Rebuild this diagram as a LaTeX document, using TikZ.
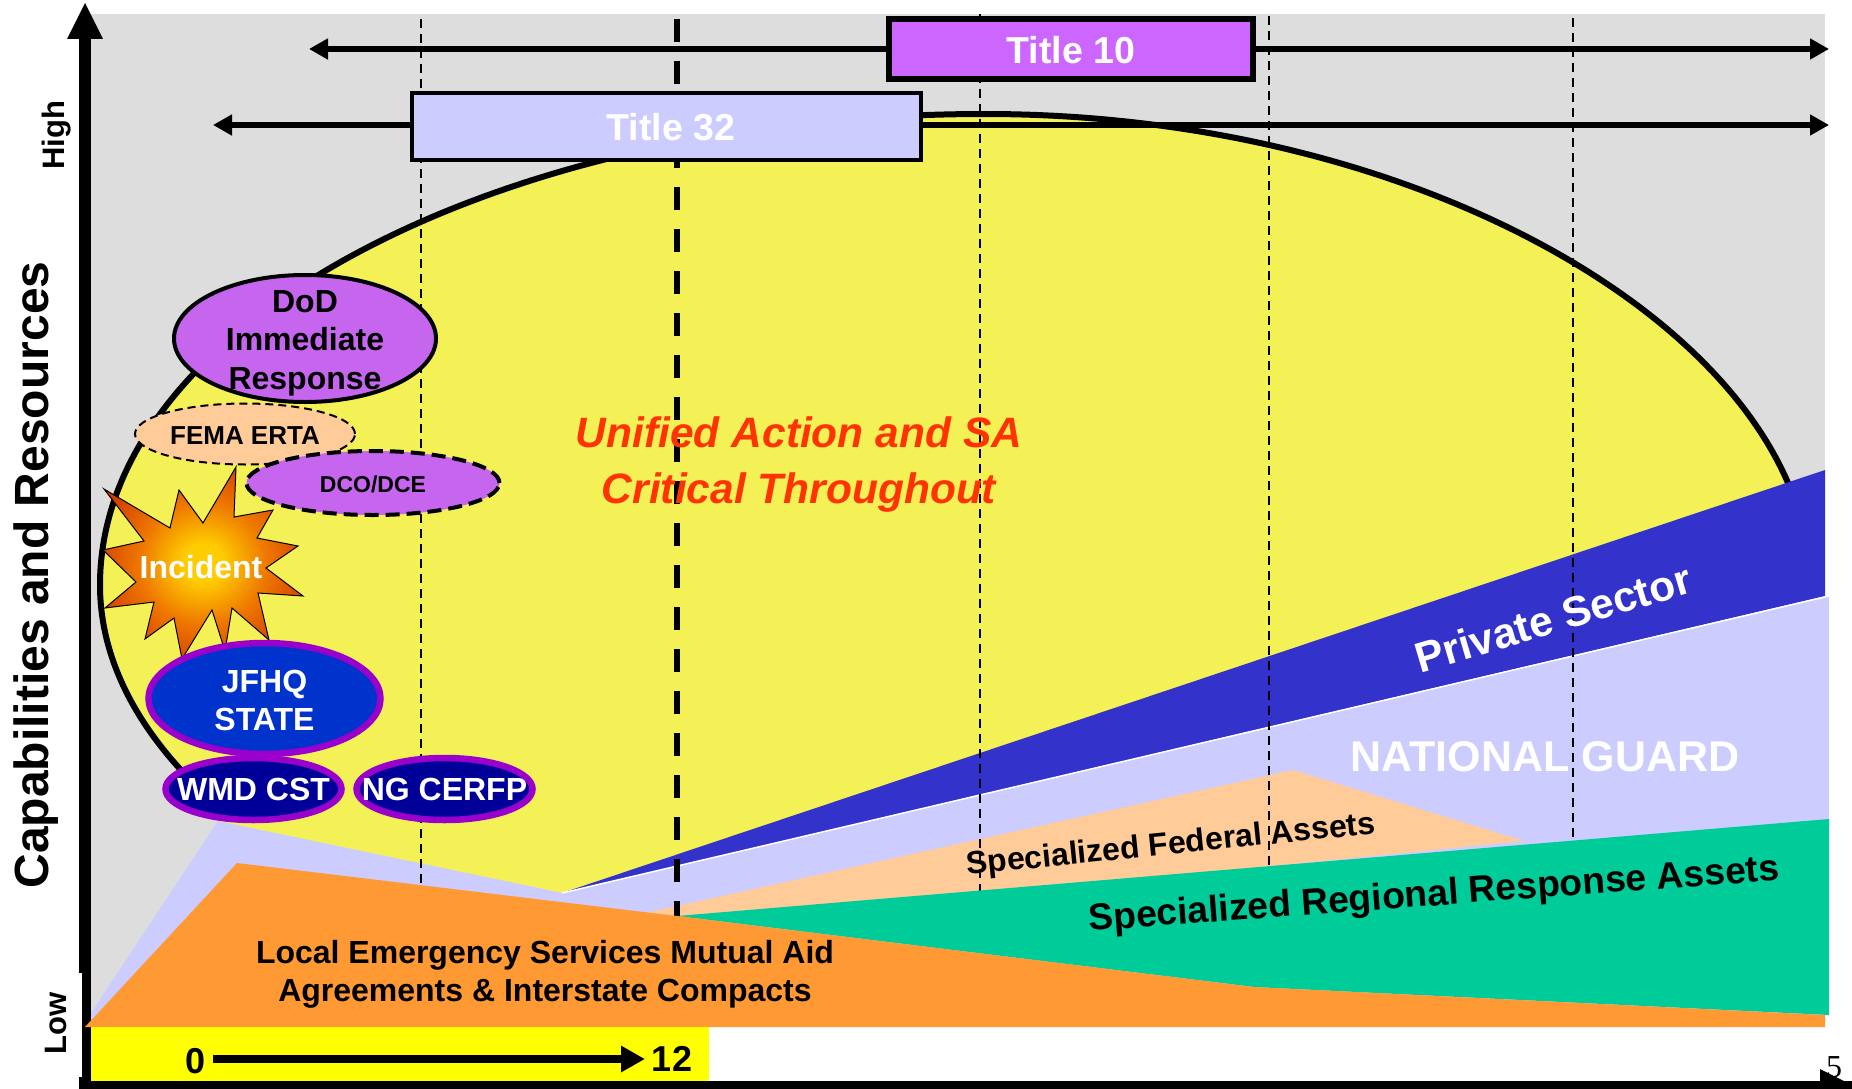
\documentclass[tikz,border=0pt]{standalone}
\usepackage{fontspec}
\setmainfont{Liberation Sans}
\newfontfamily\pagefont{Liberation Serif}
\usetikzlibrary{shapes.geometric,arrows.meta}
\definecolor{bggray}{HTML}{DDDDDD}
\definecolor{curvefill}{HTML}{F3F156}
\definecolor{lilac}{HTML}{CCCCFF}
\definecolor{dblue}{HTML}{3333CC}
\definecolor{peach}{HTML}{FFCC99}
\definecolor{sea}{HTML}{00CC99}
\definecolor{orng}{HTML}{FF9933}
\definecolor{ylw}{HTML}{FFFF00}
\definecolor{tpurple}{HTML}{CC66FF}
\definecolor{epurple}{HTML}{C666EE}
\definecolor{ringp}{HTML}{9900CC}
\definecolor{jblue}{HTML}{0033CC}
\definecolor{nblue}{HTML}{000099}
\definecolor{redtxt}{HTML}{FF3300}
\definecolor{burstin}{HTML}{FFCC00}
\definecolor{burstmid}{HTML}{EE7700}
\definecolor{burstout}{HTML}{CC3300}
\pgfdeclareradialshading{burstshade}{\pgfpoint{0bp}{0bp}}{color(0bp)=(burstin); color(5bp)=(burstin); color(16bp)=(burstmid); color(30bp)=(burstout); color(50bp)=(burstout)}
\newcommand{\fs}[2]{\fontsize{#1}{#2}\selectfont\bfseries}
\tikzset{
  x=1pt,y=-1pt,
  thindash/.style={black,line width=2pt,dash pattern=on 9pt off 6pt},
  thickdash/.style={black,line width=5.5pt,dash pattern=on 23pt off 19pt},
  spanline/.style={black,line width=5.5pt,-{Triangle[length=19pt,width=20pt]}},
  oval/.style={ellipse,draw=black,inner sep=0pt,outer sep=0pt},
  txt/.style={inner sep=0pt,outer sep=0pt,align=center},
  ring/.style={oval,draw=ringp,line width=6.5pt},
}
\begin{document}
\begin{tikzpicture}
\useasboundingbox (0,0) rectangle (1852,1089);
% axis
\fill[black] (79,39) rectangle (91,973);
\fill[black] (82,973) rectangle (91,1081);
\fill[black] (79,1077) rectangle (91,1089);
% backdrop
\fill[bggray] (91,14) rectangle (1825,1027);
\fill[black] (67,39) -- (85,3) -- (103,39) -- cycle;
% yellow region
\fill[curvefill] (219,807) .. controls (141.4,739.4) and (100,663) .. (100,585)
  .. controls (100,325) and (495,114) .. (985,114)
  .. controls (1440,114) and (1810,345) .. (1810,585)
  -- (562,893) -- (218,821) -- cycle;
\draw[black,line width=6pt] (219,807) .. controls (141.4,739.4) and (100,663) .. (100,585)
  .. controls (100,325) and (495,114) .. (985,114)
  .. controls (1440,114) and (1810,345) .. (1810,585);
% bands
\fill[dblue] (562,893) -- (1825,470) -- (1825,596) -- cycle;
\fill[lilac] (91,1013) -- (218,821) -- (562,893) -- (1829,596) -- (1829,830) -- (700,1000) -- (91,1027) -- cycle;
\draw[white,line width=1.5pt] (562,893) -- (1829,596);
\fill[peach] (645,913) -- (1293,770) -- (1524,841) -- (677,925) -- cycle;
% dashed time lines
\draw[thindash] (421,19) -- (421,890);
\draw[thickdash] (677,19) -- (677,918);
\draw[thindash] (980,14) -- (980,892);
\draw[thindash] (1269,16) -- (1269,868);
\draw[thindash] (1573,18) -- (1573,842);
\fill[sea] (677,916) -- (1829,819) -- (1829,1015) -- (1254,987) -- cycle;
\fill[orng] (85,1027) -- (237,863) -- (677,916) -- (1254,987) -- (1825,1015) -- (1825,1027) -- cycle;
\fill[ylw] (91,1027) rectangle (709,1081);
% title boxes and spans
\node[draw=black,line width=6pt,fill=tpurple,txt,minimum width=364pt,minimum height=60pt] (t10) at (1071,49) {};
\node[txt,text=white,font=\fs{37.5}{44}] (t10txt) at (1071,50.5) {Title 10};
\node[draw=black,line width=4pt,fill=lilac,txt,minimum width=509pt,minimum height=67pt] (t32) at (666.5,126.5) {};
\node[txt,text=white,font=\fs{37.5}{44}] (t32txt) at (671,127.5) {Title 32};
\coordinate (t10l) at (309,49);
\coordinate (t10r) at (1829,49);
\coordinate (t32l) at (213,125);
\coordinate (t32r) at (1829,125);
\draw[spanline] (t10.west |- t10l) -- (t10l);
\draw[spanline] (t10.east |- t10r) -- (t10r);
\draw[spanline] (t32.west |- t32l) -- (t32l);
\draw[spanline] (t32.east |- t32r) -- (t32r);
% incident burst
\path[draw=black,line width=1pt,shading=burstshade]
 (236,467) -- (234,517) -- (273,510) -- (257,538) -- (298,546) -- (266,568) -- (303,596) -- (258,593) -- (269,640) -- (232,608) -- (225,651) -- (212,610) -- (182,659) -- (174,618) -- (145,639) -- (154,602) -- (105,608) -- (136,582) -- (103,550) -- (144,541) -- (104,489) -- (170,528) -- (179,490) -- (203,523) -- cycle;
\node[txt,text=white,font=\fs{32}{38}] (incident) at (201,567) {Incident};
% ovals
\node[oval,line width=4pt,fill=epurple,minimum width=262pt,minimum height=127pt] (dod) at (305,338.5) {};
\node[txt,font=\fs{32}{38.5}] (dodtxt) at (305,343) {DoD\\Immediate\\Response};
\node[oval,line width=2pt,dash pattern=on 8pt off 5pt,fill=peach,minimum width=220pt,minimum height=61pt] (fema) at (245,434) {};
\node[txt,font=\fs{26}{30}] (ematxt) at (245,435.5) {FEMA ERTA};
\node[oval,line width=4pt,dash pattern=on 14pt off 7pt,fill=epurple,minimum width=253pt,minimum height=64pt] (dco) at (373,483) {};
\node[txt,font=\fs{23}{28}] (dcotxt) at (373,484) {DCO/DCE};
\node[ring,fill=jblue,minimum width=232pt,minimum height=111pt] (jfhq) at (264.5,698.5) {};
\node[txt,text=white,font=\fs{32}{38}] (jfhqtxt) at (264.5,700) {JFHQ\\STATE};
\node[ring,fill=nblue,minimum width=176pt,minimum height=62pt] (wmd) at (253.5,789) {};
\node[txt,text=white,font=\fs{32}{38}] (wmdtxt) at (253.5,789.5) {WMD CST};
\node[ring,fill=nblue,minimum width=176pt,minimum height=62pt] (cerfp) at (444.5,789) {};
\node[txt,text=white,font=\fs{32}{38}] (cerfptxt) at (444.5,789.5) {NG CERFP};
% labels
\node[txt,text=redtxt,font=\fs{42.5}{56}\itshape] (ua) at (799,465) {Unified Action and SA\\Critical Throughout};
\node[txt,font=\fs{32}{38}] (local) at (545,974) {Local Emergency Services Mutual Aid\\Agreements \& Interstate Compacts};
\node[txt,text=white,rotate=16.5,font=\fs{42.5}{50}] (priv) at (1553,618) {Private Sector};
\node[txt,text=white,font=\fs{43}{50}] (ng) at (1545,757) {NATIONAL GUARD};
\node[txt,rotate=5.8,font=\fs{32}{38}] (fed) at (1171,846) {Specialized Federal Assets};
\node[txt,rotate=4.2,font=\fs{37.3}{44}] (reg) at (1434,896) {Specialized Regional Response Assets};
\node[txt,rotate=90,font=\fs{48}{56}] (cap) at (36,575) {Capabilities and Resources};
\node[txt,rotate=90,font=\fs{31}{36}] (high) at (57,135) {High};
\node[txt,rotate=90,font=\fs{31}{36}] (low) at (56,1023) {Low};
% 0 to 12
\node[txt,font=\fs{36}{42}] (zero) at (196,1061) {0};
\node[txt,font=\fs{36}{42}] (twelve) at (672,1059) {12};
\draw[black,line width=8pt,-{Triangle[length=24pt,width=25pt]}] (213,1059) -- (645,1059);
% bottom axis
\fill[black] (79,1081) rectangle (1852,1089);
\fill[black] (1820,1069) -- (1852,1085) -- (1820,1089) -- cycle;
\node[txt,font=\pagefont\fontsize{32}{36}\selectfont] (pg) at (1834,1067) {5};
\end{tikzpicture}
\end{document}
